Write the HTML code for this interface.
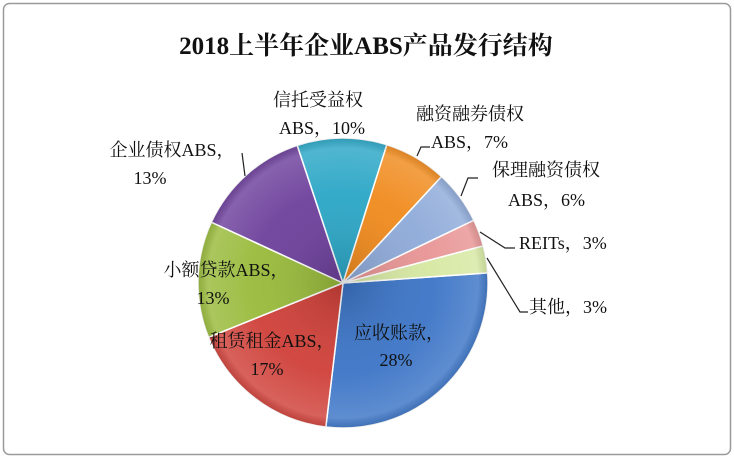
<!DOCTYPE html>
<html><head><meta charset="utf-8"><style>
html,body{margin:0;padding:0;background:#fff;}
svg{display:block;}
text{font-family:"Liberation Serif","Noto Serif CJK SC",serif;fill:#111;}
</style></head><body>
<svg width="734" height="458" viewBox="0 0 734 458" xmlns="http://www.w3.org/2000/svg">
<defs>
<radialGradient id="sh" cx="343" cy="283" r="150" gradientUnits="userSpaceOnUse">
<stop offset="0" stop-color="#000" stop-opacity="0.15"/>
<stop offset="0.6" stop-color="#fff" stop-opacity="0.05"/>
<stop offset="0.9" stop-color="#fff" stop-opacity="0.18"/>
<stop offset="1" stop-color="#000" stop-opacity="0.12"/>
</radialGradient>
</defs>
<rect x="3.5" y="3.5" width="727" height="451" rx="6" fill="#fff" stroke="#9a9a9a" stroke-width="1.5"/>
<text x="366" y="54" font-size="25" font-weight="bold" text-anchor="middle">2018上半年企业ABS产品发行结构</text>
<g stroke="#fff" stroke-width="1.5">
<path d="M343,283 L487.65,272.88 A145,145 0 0 1 325.83,426.98 Z" fill="#3b74c6"/>
<path d="M343,283 L325.83,426.98 A145,145 0 0 1 208.56,337.32 Z" fill="#cf3f38"/>
<path d="M343,283 L208.56,337.32 A145,145 0 0 1 211.37,222.18 Z" fill="#98ba3a"/>
<path d="M343,283 L211.37,222.18 A145,145 0 0 1 297.23,145.41 Z" fill="#6c3f9b"/>
<path d="M343,283 L297.23,145.41 A145,145 0 0 1 386.84,144.79 Z" fill="#2aa6c6"/>
<path d="M343,283 L386.84,144.79 A145,145 0 0 1 441.52,176.61 Z" fill="#f08a1c"/>
<path d="M343,283 L441.52,176.61 A145,145 0 0 1 473.77,220.35 Z" fill="#8eaad9"/>
<path d="M343,283 L473.77,220.35 A145,145 0 0 1 483.19,245.96 Z" fill="#e89494"/>
<path d="M343,283 L483.19,245.96 A145,145 0 0 1 487.65,272.88 Z" fill="#d6e8a2"/>
</g>
<circle cx="343" cy="283" r="145" fill="url(#sh)"/>
<g stroke="#222" stroke-width="1.2" fill="none">
<polyline points="245,176 242,153"/>
<polyline points="417,156 421,147 430,147"/>
<polyline points="461,196 468,178 478,178"/>
<polyline points="480,232 505,248 515,248"/>
<polyline points="487,258 520,312 528,312"/>
</g>
<g font-size="18">
<text x="318" y="106" text-anchor="middle">信托受益权</text>
<text x="322" y="134" text-anchor="middle">ABS，10%</text>
<text x="470" y="120" text-anchor="middle">融资融券债权</text>
<text x="431" y="148">ABS，7%</text>
<text x="546" y="176" text-anchor="middle">保理融资债权</text>
<text x="508" y="206">ABS，6%</text>
<text x="519" y="249">REITs，3%</text>
<text x="529" y="313">其他，3%</text>
<text x="172" y="156" text-anchor="middle">企业债权ABS，</text>
<text x="150" y="184" text-anchor="middle">13%</text>
<text x="226" y="276" text-anchor="middle">小额贷款ABS，</text>
<text x="213" y="304" text-anchor="middle">13%</text>
<text x="272" y="347" text-anchor="middle">租赁租金ABS，</text>
<text x="267" y="375" text-anchor="middle">17%</text>
<text x="399" y="339" text-anchor="middle">应收账款，</text>
<text x="396" y="366" text-anchor="middle">28%</text>
</g>
</svg>
</body></html>
